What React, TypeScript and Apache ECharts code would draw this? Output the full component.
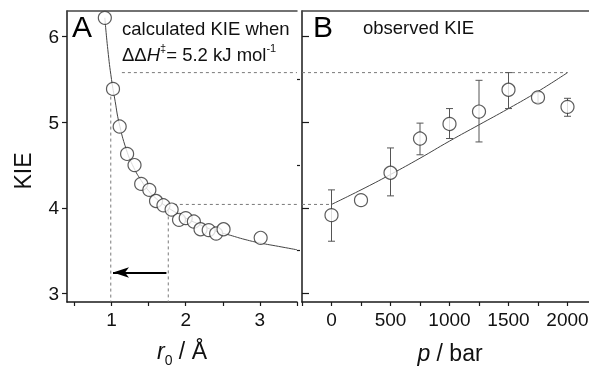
import React, { useEffect, useRef } from "react";
import * as echarts from "echarts";

// Panel A: calculated KIE vs r0
const rA = [0.91, 1.02, 1.11, 1.21, 1.31, 1.40, 1.51, 1.60, 1.70, 1.81, 1.91, 2.00, 2.11, 2.20, 2.31, 2.41, 2.51, 3.01];
const kieA = [6.22, 5.39, 4.95, 4.63, 4.50, 4.28, 4.21, 4.08, 4.03, 3.98, 3.86, 3.88, 3.84, 3.75, 3.74, 3.70, 3.75, 3.65];
const fitR = [0.91, 0.95, 1.0, 1.05, 1.1, 1.2, 1.3, 1.4, 1.5, 1.6, 1.7, 1.8, 1.9, 2.0, 2.2, 2.4, 2.6, 2.8, 3.0, 3.25, 3.5];
const fitKieA = [6.22, 5.85, 5.5, 5.24, 5.0, 4.68, 4.47, 4.32, 4.2, 4.11, 4.04, 3.98, 3.93, 3.88, 3.8, 3.73, 3.68, 3.63, 3.59, 3.55, 3.51];

// Panel B: observed KIE vs pressure
const pressure = [0, 250, 500, 750, 1000, 1250, 1500, 1750, 2000];
const kieB = [3.915, 4.09, 4.41, 4.81, 4.98, 5.125, 5.38, 5.29, 5.18];
const errLow = [3.61, null, 4.14, 4.62, 4.81, 4.77, 5.16, 5.23, 5.07];
const errHigh = [4.21, null, 4.70, 4.99, 5.16, 5.49, 5.58, 5.35, 5.28];
const fitP = [0, 250, 500, 750, 1000, 1250, 1500, 1750, 2000];
const fitKieB = [4.04, 4.21, 4.39, 4.58, 4.78, 4.97, 5.16, 5.36, 5.58];

// guide lines
const dashTopA = [[1.14, 5.58], [3.5, 5.58]];
const dashVertA1 = [[0.99, 5.3], [0.99, 2.9]];
const dashMidA = [[1.84, 4.04], [3.5, 4.04]];
const dashVertA2 = [[1.765, 3.97], [1.765, 2.9]];
const dashTopB = [[-250, 5.58], [2000, 5.58]];
const dashMidB = [[-250, 4.04], [0, 4.04]];
const arrowFrom = [1.74, 3.245];
const arrowTo = [1.02, 3.245];

// ticks
const xTicksA = [0.5, 1, 1.5, 2, 2.5, 3, 3.5];
const xLabelsA = [1, 2, 3];
const yMajor = [3, 4, 5, 6];
const yMinor = [3.5, 4.5, 5.5];

const FONT = "Liberation Sans, Arial, sans-serif";
const AX = "#1a1a1a";

export default function App() {
  const ref = useRef<HTMLDivElement>(null);
  useEffect(() => {
    if (!ref.current) return;
    const chart = echarts.init(ref.current, null, { renderer: "svg" });
    const zip = (a: number[], b: number[]) => a.map((v, i) => [v, b[i]]);
    const dashed = (data: number[][], xi: number, yi: number) => ({
      type: "line",
      xAxisIndex: xi,
      yAxisIndex: yi,
      data,
      symbol: "none",
      silent: true,
      lineStyle: { color: "#7a7a7a", width: 1, type: [3, 3] },
      z: 1,
    });
    const baseX = {
      type: "value",
      splitLine: { show: false },
      axisLine: { show: true, onZero: false, lineStyle: { color: AX, width: 1.5 } },
    };
    const baseY = {
      type: "value",
      min: 2.9,
      max: 6.3,
      splitLine: { show: false },
      axisLine: { show: false, onZero: false, lineStyle: { color: AX, width: 1.5 } },
      axisLabel: { show: false },
    };
    const errData = pressure
      .map((p, i) => [p, errLow[i], errHigh[i]])
      .filter((d) => d[1] != null);

    chart.setOption({
      animation: false,
      textStyle: { fontFamily: FONT },
      grid: [
        { left: 67, top: 11, width: 230, height: 291, containLabel: false, outerBoundsMode: "none" },
        { left: 302, top: 11, width: 295, height: 291, containLabel: false, outerBoundsMode: "none" },
      ],
      xAxis: [
        {
          ...baseX,
          gridIndex: 0,
          min: 0.4,
          max: 3.5,
          axisTick: { show: true, customValues: xTicksA, length: 4, lineStyle: { color: AX, width: 1.2 } },
          axisLabel: { customValues: xLabelsA, fontSize: 19, color: "#111", margin: 8, fontFamily: FONT },
        },
        {
          ...baseX,
          gridIndex: 0,
          position: "top",
          min: 0.4,
          max: 3.5,
          axisLine: { show: true, onZero: false, lineStyle: { color: "#444", width: 1.5 } },
          axisTick: { show: false },
          axisLabel: { show: false },
        },
        {
          ...baseX,
          gridIndex: 1,
          min: -250,
          max: 2250,
          interval: 250,
          axisTick: { show: true, length: 4, lineStyle: { color: AX, width: 1.2 } },
          axisLabel: {
            fontSize: 19,
            color: "#111",
            margin: 8,
            fontFamily: FONT,
            hideOverlap: false,
            formatter: (v: number) => (v >= 0 && v % 500 === 0 && v <= 2000 ? String(v) : ""),
          },
        },
        {
          ...baseX,
          gridIndex: 1,
          position: "top",
          min: -250,
          max: 2250,
          axisLine: { show: true, onZero: false, lineStyle: { color: "#444", width: 1.5 } },
          axisTick: { show: false },
          axisLabel: { show: false },
        },
      ],
      yAxis: [
        {
          ...baseY,
          gridIndex: 0,
          axisLine: { show: true, onZero: false, lineStyle: { color: AX, width: 1.5 } },
          axisTick: { show: true, customValues: yMajor, length: 5, lineStyle: { color: AX, width: 1.2 } },
          axisLabel: { show: true, customValues: yMajor, fontSize: 19, color: "#111", margin: 8, fontFamily: FONT },
        },
        {
          ...baseY,
          gridIndex: 0,
          axisTick: { show: true, customValues: yMinor, length: 3, lineStyle: { color: AX, width: 1.2 } },
        },
        {
          ...baseY,
          gridIndex: 1,
          axisLine: { show: true, onZero: false, lineStyle: { color: AX, width: 1.5 } },
          axisTick: { show: true, inside: true, customValues: yMajor, length: 7, lineStyle: { color: AX, width: 1.2 } },
        },
        {
          ...baseY,
          gridIndex: 1,
          axisTick: { show: true, customValues: yMajor, length: 5, lineStyle: { color: AX, width: 1.2 } },
        },
        {
          ...baseY,
          gridIndex: 1,
          axisTick: { show: true, inside: true, customValues: yMinor, length: 3, lineStyle: { color: AX, width: 1.2 } },
        },
        {
          ...baseY,
          gridIndex: 1,
          axisTick: { show: true, customValues: yMinor, length: 3, lineStyle: { color: AX, width: 1.2 } },
        },
      ],
      series: [
        dashed(dashTopA, 0, 0),
        dashed(dashVertA1, 0, 0),
        dashed(dashMidA, 0, 0),
        dashed(dashVertA2, 0, 0),
        dashed(dashTopB, 2, 2),
        dashed(dashMidB, 2, 2),
        {
          type: "line",
          xAxisIndex: 0,
          yAxisIndex: 0,
          data: zip(fitR, fitKieA),
          smooth: true,
          symbol: "none",
          lineStyle: { color: "#444", width: 1 },
          z: 2,
          markLine: {
            silent: true,
            symbol: ["none", "arrow"],
            symbolSize: [8, 16],
            label: { show: false },
            lineStyle: { color: "#000", width: 2, type: "solid" },
            data: [[{ coord: arrowFrom }, { coord: arrowTo }]],
          },
        },
        {
          type: "scatter",
          xAxisIndex: 0,
          yAxisIndex: 0,
          data: zip(rA, kieA),
          symbol: "circle",
          symbolSize: 13,
          itemStyle: { color: "#fff", borderColor: "#333", borderWidth: 1.2 },
          z: 5,
        },
        {
          type: "line",
          xAxisIndex: 2,
          yAxisIndex: 2,
          data: zip(fitP, fitKieB),
          smooth: true,
          symbol: "none",
          lineStyle: { color: "#444", width: 1 },
          z: 2,
        },
        {
          type: "custom",
          xAxisIndex: 2,
          yAxisIndex: 2,
          data: errData,
          encode: { x: 0, y: [1, 2] },
          z: 3,
          renderItem: (params: any, api: any) => {
            const x = api.value(0);
            const lo = api.coord([x, api.value(1)]);
            const hi = api.coord([x, api.value(2)]);
            const st = { stroke: "#555", lineWidth: 1 };
            const c = 3.5;
            return {
              type: "group",
              children: [
                { type: "line", shape: { x1: lo[0], y1: lo[1], x2: hi[0], y2: hi[1] }, style: st },
                { type: "line", shape: { x1: lo[0] - c, y1: lo[1], x2: lo[0] + c, y2: lo[1] }, style: st },
                { type: "line", shape: { x1: hi[0] - c, y1: hi[1], x2: hi[0] + c, y2: hi[1] }, style: st },
              ],
            };
          },
        },
        {
          type: "scatter",
          xAxisIndex: 2,
          yAxisIndex: 2,
          data: zip(pressure, kieB),
          symbol: "circle",
          symbolSize: 13,
          itemStyle: { color: "#fff", borderColor: "#333", borderWidth: 1.2 },
          z: 5,
        },
      ],
      graphic: [
        { type: "text", x: 72, y: 26, z: 10, style: { text: "A", fontSize: 30, fontFamily: FONT, fill: "#000", align: "left", verticalAlign: "middle" } },
        { type: "text", x: 313, y: 26, z: 10, style: { text: "B", fontSize: 30, fontFamily: FONT, fill: "#000", align: "left", verticalAlign: "middle" } },
        { type: "text", x: 122, y: 28, z: 10, style: { text: "calculated KIE when", fontSize: 18.5, fontFamily: FONT, fill: "#111", align: "left", verticalAlign: "middle" } },
        {
          type: "text",
          x: 122,
          y: 53,
          z: 10,
          style: {
            text: "{n|ΔΔ}{i|H}{s|‡}{n|= 5.2 kJ mol}{s|-1}",
            fontFamily: FONT,
            fill: "#111",
            align: "left",
            verticalAlign: "middle",
            rich: {
              n: { fontSize: 18.5, fontFamily: FONT, fill: "#111", lineHeight: 22, verticalAlign: "bottom" },
              i: { fontSize: 18.5, fontFamily: FONT, fontStyle: "italic", fill: "#111", lineHeight: 22, verticalAlign: "bottom" },
              s: { fontSize: 11, fontFamily: FONT, fill: "#111", lineHeight: 11, verticalAlign: "top" },
            },
          },
        },
        { type: "text", x: 363, y: 27, z: 10, style: { text: "observed KIE", fontSize: 18.5, fontFamily: FONT, fill: "#111", align: "left", verticalAlign: "middle" } },
        { type: "text", x: 23, y: 171, rotation: Math.PI / 2, z: 10, style: { text: "KIE", fontSize: 23, fontFamily: FONT, fill: "#111", align: "center", verticalAlign: "middle" } },
        {
          type: "text",
          x: 182,
          y: 353,
          z: 10,
          style: {
            text: "{i|r}{b|0}{n| / Å}",
            fontFamily: FONT,
            fill: "#111",
            align: "center",
            verticalAlign: "middle",
            rich: {
              i: { fontSize: 23, fontStyle: "italic", fontFamily: FONT, fill: "#111", lineHeight: 28, verticalAlign: "top" },
              b: { fontSize: 14, fontFamily: FONT, fill: "#111", lineHeight: 28, verticalAlign: "bottom" },
              n: { fontSize: 23, fontFamily: FONT, fill: "#111", lineHeight: 28, verticalAlign: "top" },
            },
          },
        },
        {
          type: "text",
          x: 450,
          y: 353,
          z: 10,
          style: {
            text: "{i|p}{n| / bar}",
            fontFamily: FONT,
            fill: "#111",
            align: "center",
            verticalAlign: "middle",
            rich: {
              i: { fontSize: 23, fontStyle: "italic", fontFamily: FONT, fill: "#111" },
              n: { fontSize: 23, fontFamily: FONT, fill: "#111" },
            },
          },
        },
      ],
    });
    return () => chart.dispose();
  }, []);
  return <div ref={ref} style={{ position: "fixed", left: 0, top: 0, width: 589, height: 368 }} />;
}
